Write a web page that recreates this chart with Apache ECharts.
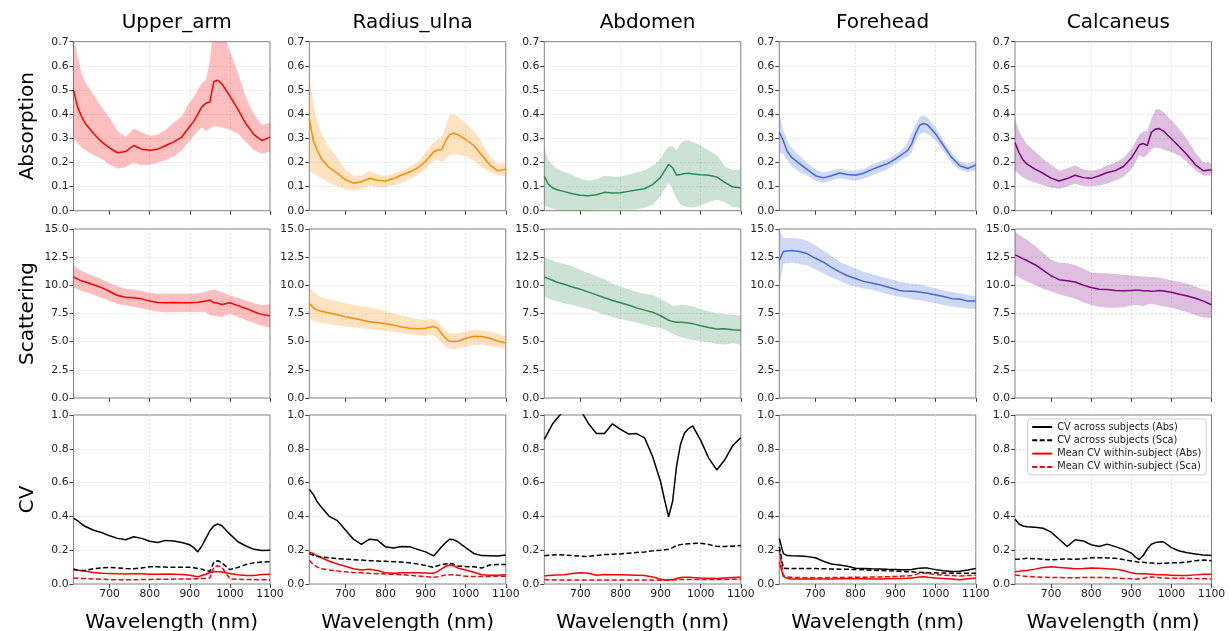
<!DOCTYPE html>
<html>
<head>
<meta charset="utf-8">
<script src="https://cdn.jsdelivr.net/npm/echarts@6/dist/echarts.min.js"></script>
<style>
  html, body { margin: 0; padding: 0; background: #fff; }
  #main { width: 1229px; height: 631px; }
</style>
</head>
<body>
<div id="main"></div>
<script>
// wavelength samples (nm)
var W = [610,620,630,640,660,680,700,720,740,760,780,800,820,840,860,880,900,910,920,930,940,950,960,970,980,1000,1020,1040,1060,1080,1100];

var sites = ['Upper_arm', 'Radius_ulna', 'Abdomen', 'Forehead', 'Calcaneus'];
var rowNames = ['Absorption', 'Scattering', 'CV'];
var cvNames = ['CV across subjects (Abs)', 'CV across subjects (Sca)', 'Mean CV within-subject (Abs)', 'Mean CV within-subject (Sca)'];
var xTicks = [700, 800, 900, 1000, 1100];

// ---- Upper_arm
var upperArmAbs   = [0.50,0.43,0.39,0.36,0.32,0.285,0.26,0.24,0.245,0.27,0.255,0.25,0.255,0.27,0.285,0.305,0.35,0.37,0.40,0.43,0.445,0.45,0.535,0.54,0.525,0.475,0.42,0.36,0.315,0.29,0.305];
var upperArmAbsHi = [0.72,0.64,0.57,0.53,0.48,0.43,0.385,0.33,0.305,0.34,0.325,0.31,0.315,0.335,0.365,0.39,0.45,0.47,0.5,0.53,0.54,0.62,0.78,0.78,0.76,0.66,0.57,0.47,0.40,0.355,0.365];
var upperArmAbsLo = [0.30,0.28,0.262,0.25,0.23,0.215,0.19,0.175,0.18,0.20,0.188,0.189,0.20,0.21,0.225,0.25,0.29,0.31,0.33,0.345,0.33,0.34,0.35,0.349,0.345,0.335,0.32,0.285,0.25,0.236,0.245];
var upperArmSca   = [10.75,10.55,10.4,10.3,10.05,9.8,9.45,9.1,8.95,8.9,8.8,8.6,8.48,8.45,8.47,8.45,8.45,8.48,8.5,8.55,8.6,8.7,8.45,8.4,8.3,8.45,8.2,7.95,7.65,7.4,7.3];
var upperArmScaHi = [11.8,11.5,11.3,11.15,10.85,10.55,10.2,9.9,9.7,9.62,9.5,9.35,9.25,9.25,9.27,9.27,9.27,9.27,9.3,9.35,9.45,9.55,9.6,9.55,9.4,9.1,8.9,8.65,8.4,8.25,8.3];
var upperArmScaLo = [9.8,9.65,9.5,9.4,9.15,8.9,8.6,8.35,8.2,8.1,7.95,7.8,7.68,7.6,7.62,7.63,7.63,7.63,7.65,7.65,7.6,7.35,7.3,7.25,7.2,7.5,7.2,6.9,6.65,6.4,6.25];
var upperArmCvAbs  = [0.39,0.375,0.355,0.34,0.318,0.305,0.285,0.27,0.262,0.28,0.27,0.253,0.245,0.258,0.255,0.245,0.232,0.215,0.19,0.225,0.27,0.315,0.345,0.355,0.345,0.295,0.25,0.225,0.205,0.198,0.2];
var upperArmCvSca  = [0.089,0.082,0.08,0.082,0.09,0.095,0.098,0.095,0.092,0.09,0.095,0.102,0.102,0.1,0.099,0.099,0.099,0.096,0.092,0.088,0.078,0.075,0.13,0.138,0.125,0.085,0.098,0.115,0.125,0.13,0.132];
var upperArmCvWAbs = [0.085,0.082,0.078,0.075,0.068,0.063,0.062,0.06,0.059,0.061,0.06,0.058,0.058,0.059,0.058,0.056,0.052,0.047,0.043,0.05,0.058,0.068,0.073,0.073,0.071,0.062,0.055,0.05,0.051,0.056,0.058];
var upperArmCvWSca = [0.035,0.034,0.033,0.032,0.03,0.028,0.026,0.025,0.025,0.025,0.026,0.027,0.028,0.028,0.029,0.029,0.03,0.03,0.031,0.032,0.033,0.035,0.1,0.108,0.1,0.03,0.028,0.027,0.026,0.025,0.024];

// ---- Radius_ulna
var radiusAbs   = [0.38,0.29,0.25,0.215,0.178,0.155,0.128,0.114,0.12,0.134,0.126,0.123,0.133,0.148,0.16,0.177,0.205,0.225,0.243,0.252,0.253,0.29,0.315,0.321,0.315,0.295,0.27,0.23,0.19,0.165,0.172];
var radiusAbsHi = [0.57,0.44,0.37,0.32,0.26,0.22,0.17,0.145,0.145,0.165,0.15,0.145,0.152,0.165,0.182,0.2,0.24,0.26,0.282,0.295,0.3,0.35,0.4,0.4,0.39,0.36,0.33,0.285,0.225,0.193,0.2];
var radiusAbsLo = [0.165,0.155,0.145,0.135,0.115,0.1,0.087,0.083,0.09,0.103,0.097,0.098,0.104,0.115,0.13,0.148,0.175,0.19,0.205,0.212,0.2,0.215,0.232,0.233,0.232,0.225,0.21,0.18,0.16,0.148,0.145];
var radiusSca   = [8.4,8.0,7.8,7.7,7.55,7.38,7.2,7.08,6.93,6.76,6.67,6.58,6.47,6.3,6.2,6.15,6.2,6.28,6.35,6.2,5.7,5.3,5.03,5.02,5.04,5.28,5.48,5.45,5.3,5.05,4.88];
var radiusScaHi = [9.9,9.4,9.15,8.95,8.75,8.6,8.4,8.25,8.15,8.05,7.9,7.7,7.5,7.35,7.15,7.0,6.95,6.98,7.0,6.8,6.3,6.0,5.75,5.72,5.75,5.9,6.05,6.0,5.9,5.7,5.45];
var radiusScaLo = [7.0,6.85,6.75,6.65,6.55,6.45,6.35,6.27,6.2,6.12,6.05,5.97,5.85,5.75,5.65,5.55,5.55,5.6,5.55,5.25,4.9,4.55,4.4,4.35,4.4,4.55,4.7,4.72,4.62,4.5,4.35];
var radiusCvAbs  = [0.56,0.53,0.485,0.455,0.40,0.375,0.32,0.265,0.235,0.265,0.26,0.22,0.213,0.222,0.221,0.205,0.19,0.178,0.166,0.192,0.22,0.245,0.265,0.262,0.25,0.215,0.181,0.168,0.167,0.165,0.172];
var radiusCvSca  = [0.18,0.17,0.165,0.16,0.155,0.15,0.147,0.144,0.142,0.138,0.136,0.134,0.132,0.13,0.126,0.118,0.11,0.104,0.099,0.108,0.114,0.118,0.122,0.118,0.106,0.103,0.102,0.094,0.112,0.116,0.116];
var radiusCvWAbs = [0.19,0.18,0.165,0.155,0.135,0.118,0.105,0.09,0.083,0.087,0.08,0.066,0.064,0.067,0.067,0.067,0.065,0.063,0.063,0.075,0.09,0.105,0.112,0.108,0.095,0.083,0.07,0.055,0.052,0.052,0.054];
var radiusCvWSca = [0.14,0.115,0.1,0.09,0.083,0.077,0.072,0.068,0.066,0.063,0.061,0.059,0.057,0.055,0.052,0.047,0.044,0.041,0.04,0.043,0.048,0.053,0.054,0.054,0.052,0.046,0.044,0.044,0.045,0.046,0.046];

// ---- Abdomen
var abdomenAbs   = [0.142,0.11,0.095,0.088,0.079,0.07,0.064,0.062,0.066,0.076,0.073,0.074,0.08,0.086,0.091,0.108,0.138,0.165,0.192,0.178,0.147,0.15,0.154,0.155,0.152,0.149,0.147,0.14,0.117,0.098,0.095];
var abdomenAbsHi = [0.262,0.21,0.19,0.175,0.16,0.148,0.132,0.124,0.13,0.145,0.142,0.142,0.15,0.158,0.168,0.185,0.215,0.245,0.265,0.268,0.25,0.278,0.29,0.292,0.285,0.27,0.25,0.23,0.185,0.168,0.172];
var abdomenAbsLo = [0.022,0.015,0.008,0.004,0.001,0.0,0.002,0.003,0.004,0.004,0.004,0.004,0.004,0.006,0.012,0.025,0.06,0.09,0.115,0.09,0.05,0.025,0.018,0.015,0.013,0.022,0.035,0.045,0.035,0.016,0.01];
var abdomenSca   = [10.75,10.6,10.45,10.3,10.1,9.85,9.65,9.4,9.15,8.9,8.65,8.45,8.25,8.0,7.8,7.62,7.3,7.1,6.9,6.8,6.72,6.72,6.7,6.66,6.6,6.42,6.25,6.12,6.15,6.05,6.02];
var abdomenScaHi = [12.5,12.35,12.2,12.05,11.9,11.7,11.35,11.1,10.8,10.55,10.15,9.9,9.65,9.42,9.25,9.15,8.8,8.6,8.4,8.15,8.2,8.28,8.25,8.2,8.15,7.9,7.7,7.5,7.45,7.4,7.34];
var abdomenScaLo = [9.0,8.85,8.7,8.6,8.4,8.25,8.05,7.9,7.65,7.4,7.2,7.0,6.85,6.7,6.5,6.3,6.2,6.1,5.9,5.7,5.55,5.4,5.3,5.22,5.15,5.05,4.95,4.8,4.75,4.85,4.73];
var abdomenCvAbs  = [0.855,0.9,0.945,0.975,1.03,1.05,1.03,0.95,0.89,0.89,0.948,0.915,0.888,0.89,0.865,0.755,0.605,0.497,0.398,0.49,0.7,0.83,0.895,0.92,0.935,0.85,0.745,0.675,0.735,0.82,0.866];
var abdomenCvSca  = [0.167,0.17,0.172,0.173,0.172,0.168,0.165,0.163,0.168,0.174,0.176,0.178,0.182,0.186,0.19,0.196,0.2,0.203,0.206,0.215,0.228,0.233,0.236,0.238,0.24,0.241,0.234,0.223,0.222,0.224,0.228];
var abdomenCvWAbs = [0.047,0.05,0.052,0.053,0.055,0.062,0.067,0.063,0.052,0.056,0.055,0.054,0.053,0.052,0.05,0.042,0.028,0.024,0.024,0.026,0.032,0.038,0.04,0.04,0.038,0.035,0.034,0.033,0.036,0.038,0.04];
var abdomenCvWSca = [0.026,0.025,0.025,0.024,0.024,0.024,0.023,0.023,0.023,0.024,0.024,0.024,0.024,0.024,0.024,0.023,0.022,0.022,0.022,0.023,0.025,0.026,0.027,0.027,0.027,0.027,0.026,0.026,0.027,0.028,0.028];

// ---- Forehead
var foreheadAbs   = [0.325,0.29,0.245,0.222,0.195,0.17,0.145,0.136,0.145,0.156,0.15,0.147,0.155,0.17,0.183,0.195,0.215,0.226,0.238,0.25,0.276,0.32,0.354,0.361,0.355,0.318,0.268,0.22,0.186,0.175,0.19];
var foreheadAbsHi = [0.405,0.335,0.29,0.262,0.228,0.198,0.17,0.158,0.165,0.175,0.167,0.166,0.172,0.19,0.203,0.214,0.232,0.245,0.26,0.285,0.32,0.36,0.388,0.395,0.385,0.345,0.29,0.24,0.205,0.195,0.207];
var foreheadAbsLo = [0.24,0.235,0.21,0.185,0.16,0.145,0.125,0.115,0.125,0.135,0.128,0.124,0.132,0.145,0.158,0.172,0.195,0.205,0.215,0.225,0.24,0.29,0.318,0.324,0.318,0.29,0.245,0.2,0.17,0.16,0.167];
var foreheadSca   = [12.2,13.0,13.05,13.1,13.0,12.8,12.4,12.05,11.6,11.2,10.85,10.6,10.35,10.2,10.05,9.85,9.65,9.55,9.5,9.47,9.47,9.45,9.4,9.35,9.3,9.15,9.0,8.82,8.78,8.6,8.62];
var foreheadScaHi = [15.0,14.2,14.2,14.2,14.15,13.95,13.55,13.1,12.6,12.1,11.8,11.5,11.2,11.0,10.8,10.6,10.45,10.35,10.25,10.18,10.15,10.15,10.1,10.0,9.9,9.75,9.55,9.4,9.3,9.15,9.0];
var foreheadScaLo = [9.9,11.9,11.98,11.98,11.9,11.75,11.4,11.05,10.7,10.4,10.1,9.88,9.72,9.6,9.4,9.2,9.05,8.98,8.92,8.87,8.78,8.7,8.67,8.6,8.55,8.4,8.25,8.12,8.03,7.95,7.9];
var foreheadCvAbs  = [0.27,0.18,0.168,0.167,0.166,0.162,0.155,0.135,0.118,0.112,0.105,0.093,0.092,0.09,0.089,0.087,0.086,0.085,0.084,0.084,0.086,0.09,0.093,0.095,0.094,0.085,0.078,0.074,0.075,0.083,0.092];
var foreheadCvSca  = [0.22,0.093,0.092,0.092,0.092,0.092,0.091,0.09,0.089,0.088,0.087,0.086,0.084,0.082,0.08,0.078,0.076,0.075,0.074,0.073,0.072,0.07,0.069,0.068,0.067,0.066,0.065,0.064,0.063,0.063,0.063];
var foreheadCvWAbs = [0.13,0.045,0.033,0.03,0.029,0.029,0.03,0.03,0.03,0.031,0.031,0.031,0.031,0.03,0.03,0.031,0.032,0.032,0.033,0.034,0.036,0.038,0.042,0.043,0.04,0.035,0.033,0.03,0.025,0.031,0.035];
var foreheadCvWSca = [0.2,0.05,0.042,0.04,0.038,0.037,0.037,0.037,0.038,0.038,0.039,0.04,0.04,0.041,0.042,0.043,0.045,0.046,0.047,0.048,0.05,0.056,0.063,0.066,0.062,0.056,0.052,0.05,0.047,0.05,0.052];

// ---- Calcaneus
var calcAbs   = [0.282,0.24,0.21,0.193,0.172,0.155,0.135,0.123,0.133,0.147,0.137,0.134,0.145,0.158,0.166,0.182,0.218,0.245,0.273,0.278,0.27,0.325,0.338,0.34,0.33,0.298,0.265,0.23,0.19,0.165,0.17];
var calcAbsHi = [0.38,0.33,0.3,0.275,0.245,0.215,0.19,0.165,0.175,0.188,0.172,0.165,0.172,0.188,0.2,0.218,0.255,0.285,0.315,0.328,0.33,0.38,0.418,0.42,0.41,0.375,0.338,0.295,0.24,0.2,0.2];
var calcAbsLo = [0.165,0.15,0.138,0.128,0.117,0.105,0.095,0.09,0.1,0.112,0.102,0.1,0.104,0.112,0.125,0.14,0.172,0.2,0.23,0.22,0.232,0.255,0.262,0.26,0.252,0.242,0.228,0.2,0.168,0.145,0.147];
var calcSca   = [12.7,12.55,12.35,12.2,11.83,11.35,10.85,10.5,10.4,10.3,10.02,9.8,9.65,9.62,9.55,9.52,9.55,9.56,9.56,9.53,9.52,9.48,9.5,9.55,9.5,9.38,9.2,9.05,8.85,8.6,8.28];
var calcScaHi = [14.75,14.5,14.25,14.05,13.5,12.9,12.3,12.0,11.95,11.8,11.5,11.15,11.1,11.08,11.0,10.95,10.88,10.85,10.8,10.78,10.76,10.74,10.72,10.7,10.6,10.45,10.3,10.15,9.9,9.62,9.45];
var calcScaLo = [10.95,10.7,10.5,10.35,10.0,9.7,9.45,9.2,9.0,8.8,8.5,8.25,8.1,8.0,8.0,8.05,8.2,8.28,8.2,8.14,8.3,8.37,8.3,8.2,8.14,8.0,7.8,7.6,7.35,7.15,7.1];
var calcCvAbs  = [0.383,0.355,0.343,0.339,0.336,0.33,0.307,0.265,0.222,0.262,0.255,0.232,0.222,0.236,0.221,0.205,0.183,0.16,0.145,0.17,0.208,0.235,0.245,0.248,0.25,0.215,0.195,0.185,0.178,0.172,0.168];
var calcCvSca  = [0.147,0.148,0.15,0.152,0.15,0.146,0.143,0.146,0.148,0.146,0.15,0.155,0.156,0.154,0.152,0.145,0.136,0.133,0.128,0.128,0.126,0.124,0.122,0.122,0.123,0.125,0.126,0.13,0.138,0.142,0.138];
var calcCvWAbs = [0.073,0.075,0.078,0.08,0.088,0.098,0.102,0.098,0.094,0.09,0.091,0.095,0.093,0.09,0.088,0.08,0.066,0.062,0.06,0.06,0.059,0.058,0.056,0.055,0.054,0.052,0.05,0.05,0.054,0.057,0.058];
var calcCvWSca = [0.053,0.05,0.047,0.045,0.042,0.04,0.039,0.038,0.037,0.037,0.038,0.039,0.039,0.038,0.036,0.033,0.031,0.03,0.03,0.033,0.04,0.042,0.04,0.037,0.035,0.034,0.034,0.033,0.032,0.031,0.03];

var absSets = [
  [upperArmAbs, upperArmAbsLo, upperArmAbsHi],
  [radiusAbs, radiusAbsLo, radiusAbsHi],
  [abdomenAbs, abdomenAbsLo, abdomenAbsHi],
  [foreheadAbs, foreheadAbsLo, foreheadAbsHi],
  [calcAbs, calcAbsLo, calcAbsHi]
];
var scaSets = [
  [upperArmSca, upperArmScaLo, upperArmScaHi],
  [radiusSca, radiusScaLo, radiusScaHi],
  [abdomenSca, abdomenScaLo, abdomenScaHi],
  [foreheadSca, foreheadScaLo, foreheadScaHi],
  [calcSca, calcScaLo, calcScaHi]
];
var cvSets = [
  [upperArmCvAbs, upperArmCvSca, upperArmCvWAbs, upperArmCvWSca],
  [radiusCvAbs, radiusCvSca, radiusCvWAbs, radiusCvWSca],
  [abdomenCvAbs, abdomenCvSca, abdomenCvWAbs, abdomenCvWSca],
  [foreheadCvAbs, foreheadCvSca, foreheadCvWAbs, foreheadCvWSca],
  [calcCvAbs, calcCvSca, calcCvWAbs, calcCvWSca]
];

var lineColors = ['#ff0000', '#ff8c00', '#2e8b57', '#4169e1', '#800080'];
var bandColors = ['rgba(255,0,0,0.25)', 'rgba(255,140,0,0.25)', 'rgba(46,139,87,0.25)', 'rgba(65,105,225,0.25)', 'rgba(128,0,128,0.25)'];
var cvColors = ['#000000', '#000000', '#ff0000', '#ff0000'];
var cvDash = ['solid', [5, 2.5], 'solid', [5, 2.5]];

var yMax = [0.7, 15, 1.0];
var yStep = [0.1, 2.5, 0.2];

var colLeft = [73.5, 309.3, 544.3, 779.3, 1015];
var rowTop = [41.7, 229, 415];
var plotW = 196.5, plotH = 169;
var FONT = 'DejaVu Sans';

function pts(arr) {
  return W.map(function (w, i) { return [w, arr[i]]; });
}

// shaded band between lo and hi, drawn as a polygon through the axis scales
function bandRenderer(lo, hi, color) {
  return function (params, api) {
    var top = W.map(function (w, i) { return api.coord([w, hi[i]]); });
    var bot = W.map(function (w, i) { return api.coord([w, lo[i]]); }).reverse();
    var cs = params.coordSys;
    return {
      type: 'polygon',
      shape: { points: top.concat(bot) },
      style: { fill: color },
      clipPath: { type: 'rect', shape: { x: cs.x, y: cs.y, width: cs.width, height: cs.height } }
    };
  };
}

var grids = [], xAxes = [], yAxes = [], series = [], titles = [];

for (var r = 0; r < 3; r++) {
  for (var c = 0; c < 5; c++) {
    var g = r * 5 + c;
    grids.push({
      left: colLeft[c], top: rowTop[r], width: plotW, height: plotH,
      outerBoundsMode: 'none', containLabel: false,
      show: true, borderColor: '#808080', borderWidth: 1, backgroundColor: 'transparent'
    });
    xAxes.push({
      type: 'value', gridIndex: g, min: 610, max: 1100,
      axisLine: { show: false },
      axisTick: { show: true, inside: false, length: 4, customValues: xTicks, lineStyle: { color: '#444', width: 1 } },
      axisLabel: {
        show: r === 2, customValues: xTicks, color: '#222', fontSize: 10.8, fontFamily: FONT, margin: 5,
        formatter: function (v) { return String(v); }
      },
      splitLine: { show: true, showMinLine: false, showMaxLine: false, lineStyle: { color: '#dcdcdc', width: 0.8, type: [2, 2] } },
      name: r === 2 ? 'Wavelength (nm)' : '',
      nameLocation: 'middle', nameGap: 29,
      nameTextStyle: { fontSize: 20, color: '#000', fontFamily: FONT }
    });
    yAxes.push({
      type: 'value', gridIndex: g, min: 0, max: yMax[r], interval: yStep[r],
      axisLine: { show: false },
      axisTick: { show: true, inside: false, length: 4, lineStyle: { color: '#444', width: 1 } },
      axisLabel: {
        color: '#222', fontSize: 10.8, fontFamily: FONT, margin: 5,
        formatter: function (v) { return v.toFixed(1); }
      },
      splitLine: { show: true, showMinLine: false, showMaxLine: false, lineStyle: { color: '#dcdcdc', width: 0.8, type: [2, 2] } },
      name: c === 0 ? rowNames[r] : '',
      nameLocation: 'middle', nameGap: 36, nameRotate: 90,
      nameTextStyle: { fontSize: 20, color: '#000', fontFamily: FONT }
    });

    if (r < 2) {
      var set = r === 0 ? absSets[c] : scaSets[c];
      series.push({
        type: 'custom', xAxisIndex: g, yAxisIndex: g, silent: true, z: 1,
        data: [[W[0], set[1][0]]],
        renderItem: bandRenderer(set[1], set[2], bandColors[c])
      });
      series.push({
        type: 'line', xAxisIndex: g, yAxisIndex: g,
        data: pts(set[0]), symbol: 'none',
        lineStyle: { color: lineColors[c], width: 1.5 }, itemStyle: { color: lineColors[c] }, z: 3
      });
    } else {
      for (var k = 0; k < 4; k++) {
        series.push({
          name: cvNames[k], type: 'line', xAxisIndex: g, yAxisIndex: g,
          data: pts(cvSets[c][k]), symbol: 'none',
          lineStyle: { color: cvColors[k], width: 1.5, type: cvDash[k] },
          itemStyle: { color: cvColors[k] }, z: 3 + (k < 2 ? 1 : 0)
        });
      }
    }
  }
}

for (var c2 = 0; c2 < 5; c2++) {
  titles.push({
    text: sites[c2], left: colLeft[c2] + plotW / 2, top: 8, textAlign: 'center',
    textStyle: { fontSize: 20, fontWeight: 'normal', color: '#000', fontFamily: FONT }
  });
}

var myChart = echarts.init(document.getElementById('main'));
var option = {
  animation: false,
  backgroundColor: '#fff',
  textStyle: { fontFamily: FONT },
  title: titles,
  legend: {
    data: cvNames,
    orient: 'vertical',
    left: 1027.7, top: 419,
    itemWidth: 20, itemHeight: 11, itemGap: 3.3,
    padding: [3, 5, 3, 3.5],
    backgroundColor: 'rgba(255,255,255,0.85)',
    borderColor: '#cccccc', borderWidth: 1, borderRadius: 3,
    itemStyle: { opacity: 0 },
    textStyle: { fontSize: 9.8, color: '#222', fontFamily: FONT },
    selectedMode: false
  },
  grid: grids,
  xAxis: xAxes,
  yAxis: yAxes,
  series: series
};
option && myChart.setOption(option);
</script>
</body>
</html>
